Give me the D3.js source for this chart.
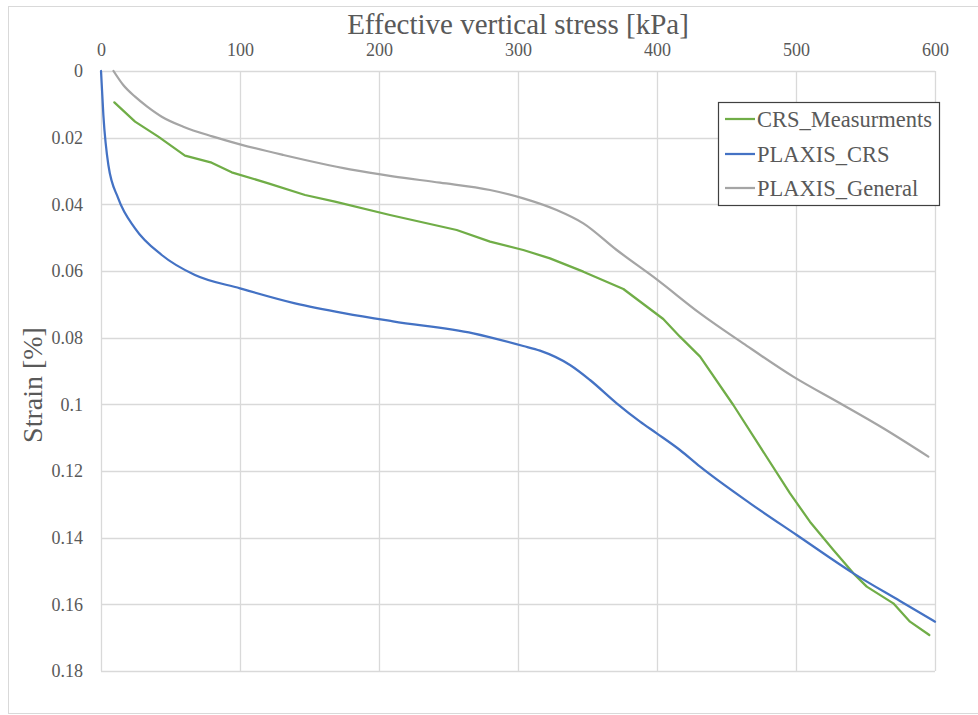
<!DOCTYPE html>
<html>
<head>
<meta charset="utf-8">
<script src="https://cdn.jsdelivr.net/npm/d3@7"></script>
<style>
html,body{margin:0;padding:0;background:#fff;}
svg{display:block;}
</style>
</head>
<body>
<svg id="chart" width="978" height="715"></svg>
<script>
// ---- data ----
const xTicks = [0,100,200,300,400,500,600];
const yTicks = [0,0.02,0.04,0.06,0.08,0.1,0.12,0.14,0.16,0.18];
const yTickLabels = ["0","0.02","0.04","0.06","0.08","0.1","0.12","0.14","0.16","0.18"];
const seriesNames = ["CRS_Measurments","PLAXIS_CRS","PLAXIS_General"];
const seriesColors = ["#70ad47","#4472c4","#a5a5a5"];

const crsX = [9.6,24.5,41.2,60.4,79.6,94,120.4,146.8,168.3,207.9,255.9,279.9,303.8,323,347,375.8,404.5,416.5,431,454.9,474.1,495.7,510,526.9,541.3,550.9,570,582,595.9];
const crsY = [0.0094,0.0152,0.0197,0.0254,0.0275,0.0304,0.0337,0.0372,0.0392,0.0432,0.0477,0.0512,0.0537,0.0562,0.0602,0.0654,0.0744,0.0797,0.0857,0.1002,0.1127,0.1267,0.1352,0.1437,0.1507,0.1547,0.1597,0.1652,0.1692];

const plaxisCrsX = [0,1.7,5.3,12.4,24.5,43.7,67.6,100,139.6,175.5,210,267.8,303.8,315.8,337.4,351.8,371,387.8,399.8,416.5,431,467,500.5,541.3,574.8,600];
const plaxisCrsY = [0,0.0132,0.0282,0.0382,0.0472,0.0552,0.0612,0.0652,0.0697,0.0727,0.0751,0.0787,0.0825,0.0839,0.0882,0.0927,0.0997,0.1052,0.1087,0.1137,0.1187,0.1297,0.1392,0.1507,0.1590,0.1652];

const generalX = [9,16,24.5,33,43.7,59.2,80,100,131.2,179.1,210,243.9,279.9,303.8,327.8,347,371,399.8,431,462,498,531.7,562.8,595.2];
const generalY = [0,0.0042,0.0077,0.0106,0.0137,0.0167,0.0196,0.0220,0.0252,0.0295,0.0316,0.0335,0.0357,0.0382,0.0417,0.0457,0.0537,0.0625,0.0727,0.0817,0.0917,0.0997,0.1072,0.1157];

// ---- chart ----
(function(){
const FONT = "'Liberation Serif', 'DejaVu Serif', serif";
const svg = d3.select("#chart").attr("font-family", FONT);
const textColor = "#595959";
const gridColor = "#d9d9d9";

// outer chart border
svg.append("rect").attr("x",8.5).attr("y",6.5).attr("width",975).attr("height",707)
  .attr("fill","#fff").attr("stroke",gridColor).attr("stroke-width",1);

const pL = 101, pR = 935, pT = 71, pB = 671;
const x = d3.scaleLinear().domain([0,600]).range([pL,pR]);
const y = d3.scaleLinear().domain([0,0.18]).range([pT,pB]);

// gridlines
const g = svg.append("g");
g.selectAll("line.vg").data(xTicks).join("line").attr("class","vg")
  .attr("x1",d=>Math.round(x(d))+0.5).attr("x2",d=>Math.round(x(d))+0.5)
  .attr("y1",pT).attr("y2",pB)
  .attr("stroke",gridColor).attr("stroke-width",1.3);
g.selectAll("line.hg").data(yTicks).join("line").attr("class","hg")
  .attr("y1",d=>Math.round(y(d))+0.5).attr("y2",d=>Math.round(y(d))+0.5)
  .attr("x1",pL).attr("x2",pR)
  .attr("stroke",gridColor).attr("stroke-width",1.3);

// axes (labels only)
const xAxis = svg.append("g").attr("transform",`translate(0,${pT-15})`)
  .call(d3.axisTop(x).tickValues(xTicks).tickSize(0).tickPadding(0));
xAxis.attr("font-family", FONT);
xAxis.select(".domain").remove();
xAxis.selectAll("text").attr("fill",textColor).attr("font-size",18).attr("dy","0");

const yAxis = svg.append("g").attr("transform",`translate(${pL-18},0)`)
  .call(d3.axisLeft(y).tickValues(yTicks).tickSize(0).tickPadding(0)
    .tickFormat((d,i)=>yTickLabels[i]));
yAxis.attr("font-family", FONT);
yAxis.select(".domain").remove();
yAxis.selectAll("text").attr("fill",textColor).attr("font-size",18);

// axis titles
svg.append("text").attr("x",518).attr("y",34).attr("text-anchor","middle")
  .attr("fill",textColor).attr("font-size",29).text("Effective vertical stress [kPa]");
svg.append("text").attr("transform","translate(42,385) rotate(-90)").attr("text-anchor","middle")
  .attr("fill",textColor).attr("font-size",28).text("Strain [%]");

// series
const series = [
  {name:seriesNames[0], xs:crsX, ys:crsY, color:seriesColors[0], curve:d3.curveLinear},
  {name:seriesNames[1], xs:plaxisCrsX, ys:plaxisCrsY, color:seriesColors[1], curve:d3.curveMonotoneX},
  {name:seriesNames[2], xs:generalX, ys:generalY, color:seriesColors[2], curve:d3.curveMonotoneX}
];
series.forEach(s=>{
  const pts = s.xs.map((v,i)=>[v,s.ys[i]]);
  svg.append("path").datum(pts)
    .attr("fill","none").attr("stroke",s.color).attr("stroke-width",2.25)
    .attr("stroke-linejoin","round").attr("stroke-linecap","round")
    .attr("d",d3.line().x(d=>x(d[0])).y(d=>y(d[1])).curve(s.curve));
});

// legend
const lg = svg.append("g");
lg.append("rect").attr("x",718.5).attr("y",102.5).attr("width",221).attr("height",103)
  .attr("fill","#fff").attr("stroke","#404040").attr("stroke-width",1.2);
const rowY = [119,154,188];
series.forEach((s,i)=>{
  lg.append("line").attr("x1",725).attr("x2",755).attr("y1",rowY[i]).attr("y2",rowY[i])
    .attr("stroke",s.color).attr("stroke-width",2.25);
  lg.append("text").attr("x",757).attr("y",rowY[i]+8).attr("fill",textColor)
    .attr("font-size",22.5).text(s.name);
});
})();
</script>
</body>
</html>
